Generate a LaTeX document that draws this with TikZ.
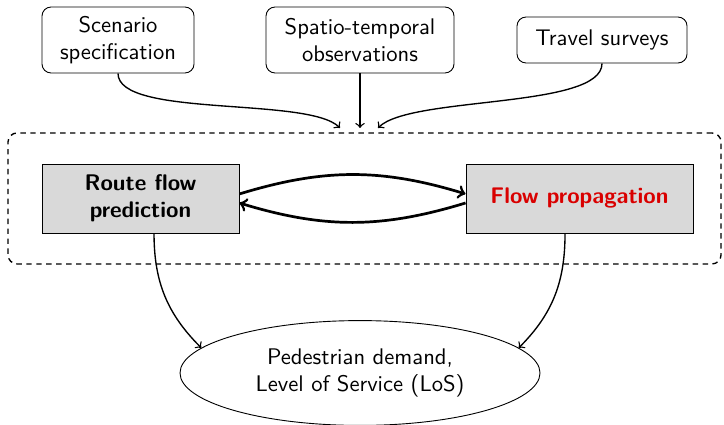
\documentclass[tikz,border=0pt]{standalone}
\usepackage{fontspec}
\usetikzlibrary{shapes.geometric}
\begin{document}
\begin{tikzpicture}[
    sourcebox/.style={draw, rounded corners, align=center, font=\sffamily, inner sep=0pt},
    stagebox/.style={draw, fill=gray!30, align=center, font=\sffamily\bfseries, inner sep=0pt, minimum height=1.073cm},
    groupbox/.style={draw, semithick, dash pattern=on 2.4pt off 2pt, rounded corners, inner sep=0pt},
    resultbox/.style={draw, ellipse, align=center, font=\sffamily, inner sep=0pt},
    feedarrow/.style={->, semithick},
    linkarrow/.style={->, very thick}
  ]
  \useasboundingbox (0,0) rectangle (11.258,6.593);%

  % Marking the dashed group round the two stages
  \node [groupbox, minimum width=11.087cm, minimum height=2.037cm] (grp) at (5.668,3.507) {};%

  % Marking the three inputs
  \node [sourcebox, minimum width=2.364cm, minimum height=1.026cm] (sc) at (1.835,5.971) {Scenario\\specification};%
  \node [sourcebox, minimum width=2.923cm, minimum height=1.026cm] (st) at (5.598,5.971) {Spatio-temporal\\observations};%
  \node [sourcebox, minimum width=2.644cm, minimum height=0.715cm] (tv) at (9.361,5.971) {Travel surveys};%

  % Marking the two stages
  \node [stagebox, minimum width=3.063cm] (rf) at (2.185,3.507) {Route flow\\prediction};%
  \node [stagebox, minimum width=3.530cm, text=red!85!black] (fp) at (9.011,3.507) {Flow propagation};%

  % Marking the result
  \node [resultbox, minimum width=5.598cm, minimum height=1.630cm] (ped) at (5.598,0.793) {Pedestrian demand,\\Level of Service (LoS)};%

  % Marking the ends of the input arrows
  \coordinate (inL) at (5.287,4.603);%
  \coordinate (inM) at (5.598,4.603);%
  \coordinate (inR) at (5.878,4.603);%

  % Drawing the input arrows
  \draw [feedarrow] (sc.south) to[out=-90, in=135, looseness=0.5] (inL);%
  \draw [feedarrow] (st.south) -- (inM);%
  \draw [feedarrow] (tv.south) to[out=-90, in=45, looseness=0.5] (inR);%

  % Drawing the loop between the stages
  \draw [linkarrow] ([yshift=2pt]rf.east) to[bend left=17] ([yshift=2pt]fp.west);%
  \draw [linkarrow] ([yshift=-2pt]fp.west) to[bend left=17] ([yshift=-2pt]rf.east);%

  % Drawing the output arrows
  \draw [feedarrow] ([xshift=0.21cm]rf.south) to[out=-90, in=135] (ped.171);%
  \draw [feedarrow] ([xshift=-0.225cm]fp.south) to[out=-90, in=45] (ped.9);%
\end{tikzpicture}
\end{document}
